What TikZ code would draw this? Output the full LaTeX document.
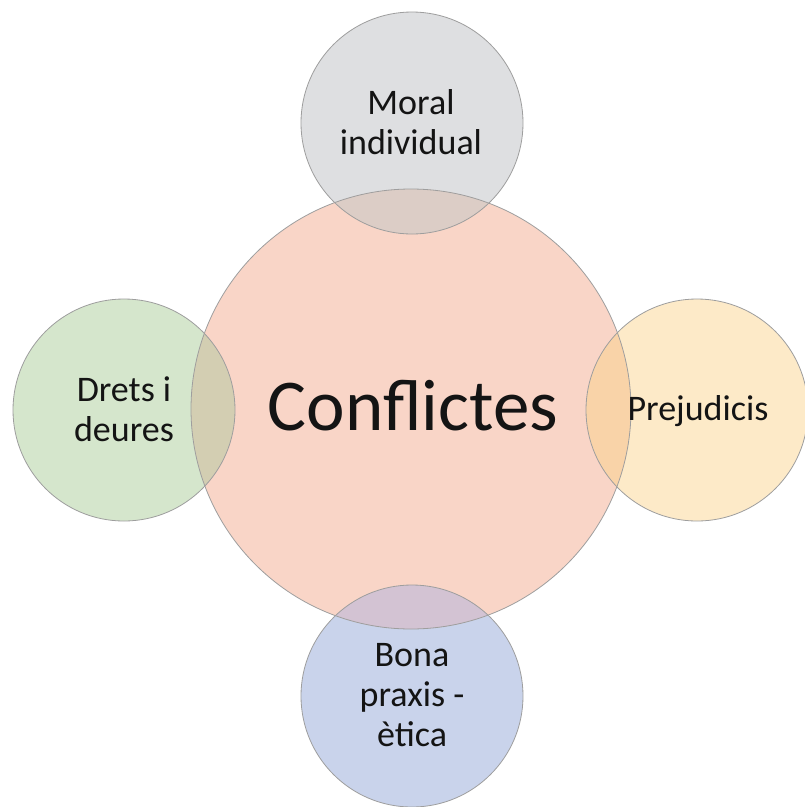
\documentclass[tikz,border=0pt]{standalone}
\usepackage{fontspec}
\setmainfont{Carlito}
\definecolor{cCen}{HTML}{F9D5C7}
\definecolor{cTop}{HTML}{DEDFE1}
\definecolor{cLeft}{HTML}{D5E6CC}
\definecolor{cRight}{HTML}{FDEAC8}
\definecolor{cBot}{HTML}{C9D3EB}
\definecolor{oTop}{HTML}{DCCDC6}
\definecolor{oLeft}{HTML}{D3CEB2}
\definecolor{oRight}{HTML}{F9D3A8}
\definecolor{oBot}{HTML}{D3C3D3}
\definecolor{edgegray}{HTML}{9E9E9E}
\definecolor{txt}{HTML}{141414}
\tikzset{
  sat/.style={circle, minimum size=222pt, inner sep=0pt, outer sep=0pt},
  cen/.style={circle, minimum size=440pt, inner sep=0pt, outer sep=0pt},
  ring/.style={draw=edgegray, line width=0.8pt},
  sattext/.style={align=center, text=txt, font=\fontsize{36}{40}\selectfont, inner sep=0pt},
  bigtext/.style={text=txt, font=\fontsize{73}{84}\selectfont, inner sep=0pt}
}
\begin{document}
\begin{tikzpicture}[x=1pt,y=-1pt]
\useasboundingbox (0,0) rectangle (805,807);
\fill[white] (0,0) rectangle (805,807);
% satellites
\node[sat, fill=cTop] (top) at (412,123) {};
\node[sat, fill=cLeft] (left) at (124,410) {};
\node[sat, fill=cRight] (right) at (697,410) {};
\node[sat, fill=cBot] (bot) at (412,696) {};
% central
\node[cen, fill=cCen] (cen) at (411,409) {};
% overlaps
\begin{scope}
  \clip (cen.center) circle (220pt);
  \fill[oTop] (top.center) circle (111pt);
  \fill[oLeft] (left.center) circle (111pt);
  \fill[oRight] (right.center) circle (111pt);
  \fill[oBot] (bot.center) circle (111pt);
\end{scope}
% outlines
\draw[ring] (top.center) circle (111pt);
\draw[ring] (left.center) circle (111pt);
\draw[ring] (right.center) circle (111pt);
\draw[ring] (bot.center) circle (111pt);
\draw[ring] (cen.center) circle (220pt);
% texts
\node[sattext] (tTop) at (411,122) {Moral\\individual};
\node[sattext] (tLeft) at (124,409) {Drets i\\deures};
\node[sattext] (tBot) at (412,695) {Bona\\praxis -\\ètica};
\node[sattext, anchor=base] (tRight) at (698,420) {Prejudicis};
\node[bigtext, anchor=base] (tCen) at (413,430) {Conflictes};
\end{tikzpicture}
\end{document}
